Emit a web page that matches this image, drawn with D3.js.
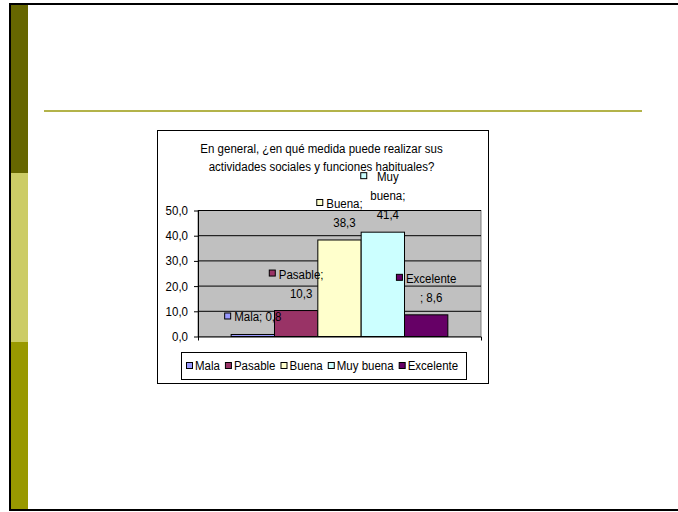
<!DOCTYPE html>
<html>
<head>
<meta charset="utf-8">
<script src="https://cdn.jsdelivr.net/npm/d3@7"></script>
<style>
  body { margin: 0; background: #fff; }
  svg { display: block; font-family: "Liberation Sans", Arial, sans-serif; }
</style>
</head>
<body>
<svg id="slide" width="678" height="512"></svg>
<script>
// chart data
const CATEGORIES = ['Mala', 'Pasable', 'Buena', 'Muy buena', 'Excelente'];
const VALUES = [0.8, 10.3, 38.3, 41.4, 8.6];
const COLORS = ['#9999FF', '#993366', '#FFFFCC', '#CCFFFF', '#660066'];
const Y_TICKS = [0, 10, 20, 30, 40, 50];
const TITLE_LINES = ['En general, ¿en qué medida puede realizar sus',
                     'actividades sociales y funciones habituales?'];

const SVG = d3.select('#slide');
const FONT = 12.5;
const SQUEEZE = 0.92; // the slide text is a bit narrower than plain Arial
const fmt = d => d3.format('.1f')(d).replace('.', ',');

// slide decoration: left stripe, frame, rule under the (empty) title
const STRIPE = [
    {y0: 4, y1: 173, c: '#666600'},
    {y0: 173, y1: 342, c: '#CCCC66'},
    {y0: 342, y1: 510, c: '#999900'}
];
SVG.selectAll('.stripe')
    .data(STRIPE)
    .enter()
    .append('rect')
    .attr('class', 'stripe')
    .attr('x', 11).attr('width', 17)
    .attr('y', d => d.y0)
    .attr('height', d => d.y1 - d.y0)
    .attr('fill', d => d.c);

SVG.append('path')
    .attr('d', 'M690,4 H10 V510 H690')
    .attr('fill', 'none').attr('stroke', '#000').attr('stroke-width', 2);

SVG.append('line')
    .attr('x1', 44).attr('x2', 642).attr('y1', 111).attr('y2', 111)
    .attr('stroke', '#B3B34A').attr('stroke-width', 2);

// chart frame
const BOX = {x: 157, y: 130, w: 331, h: 253};
SVG.append('rect')
    .attr('x', BOX.x + 0.5).attr('y', BOX.y + 0.5)
    .attr('width', BOX.w).attr('height', BOX.h)
    .attr('fill', '#fff').attr('stroke', '#000');

const CX = BOX.x + BOX.w / 2;
SVG.selectAll('.title')
    .data(TITLE_LINES)
    .enter()
    .append('text')
    .attr('class', 'title')
    .attr('x', CX - 1)
    .attr('y', (d, i) => 153 + i * 18)
    .attr('text-anchor', 'middle')
    .attr('font-size', FONT)
    .text(d => d);

// plot area
const PLOT = {left: 198, right: 481, top: 210.5, bottom: 336.5};
const y = d3.scaleLinear().domain([0, 50]).range([PLOT.bottom, PLOT.top]);
const x0 = d3.scaleBand().domain(['']).range([PLOT.left, PLOT.right]).paddingOuter(0.153);
const x1 = d3.scaleBand().domain(CATEGORIES).range([0, x0.bandwidth()]);

SVG.append('rect')
    .attr('x', PLOT.left).attr('y', PLOT.top)
    .attr('width', PLOT.right - PLOT.left).attr('height', PLOT.bottom - PLOT.top)
    .attr('fill', '#C0C0C0').attr('stroke', '#808080');

SVG.selectAll('.grid')
    .data(Y_TICKS.filter(d => d > 0))
    .enter()
    .append('line')
    .attr('class', 'grid')
    .attr('x1', PLOT.left).attr('x2', PLOT.right)
    .attr('y1', d => y(d)).attr('y2', d => y(d))
    .attr('stroke', '#000');

const yAxis = SVG.append('g')
    .attr('transform', `translate(${PLOT.left},0)`)
    .call(d3.axisLeft(y).tickValues(Y_TICKS).tickFormat(fmt).tickSize(4).tickSizeOuter(0).tickPadding(6));
yAxis.selectAll('text').attr('font-size', FONT).attr('font-family', null).attr('fill', '#000');

SVG.append('g')
    .attr('transform', `translate(0,${PLOT.bottom})`)
    .call(d3.axisBottom(x0).tickValues([]).tickSizeOuter(4));

// bars
const G = SVG.append('g').attr('transform', `translate(${x0('')},0)`);
G.selectAll('.bar')
    .data(VALUES)
    .enter()
    .append('rect')
    .attr('class', 'bar')
    .attr('x', (d, i) => x1(CATEGORIES[i]))
    .attr('width', x1.bandwidth())
    .attr('y', d => y(d))
    .attr('height', d => y(0) - y(d))
    .attr('fill', (d, i) => COLORS[i])
    .attr('stroke', '#000');

// data labels, wrapped the way the spreadsheet did (breaks at spaces or before ';')
const probe = SVG.append('text').attr('font-size', FONT).attr('visibility', 'hidden');
const measure = s => probe.text(s).node().getComputedTextLength() * SQUEEZE;
function wrap(str, maxW) {
    const lines = [];
    let rest = str;
    while (measure(rest) > maxW) {
        let best = -1;
        for (let i = 1; i < rest.length; i++) {
            if ((rest[i] === ' ' || rest[i] === ';') && measure(rest.slice(0, i)) <= maxW) best = i;
        }
        if (best < 0) break;
        lines.push(rest.slice(0, best));
        rest = rest.slice(rest[best] === ' ' ? best + 1 : best);
    }
    lines.push(rest);
    return lines;
}

const LINE_H = 19;
VALUES.forEach((v, i) => {
    const lines = wrap(CATEGORIES[i] + '; ' + fmt(v), 52);
    const textW = d3.max(lines, measure);
    const cx = x0('') + x1(CATEGORIES[i]) + x1.bandwidth() / 2;
    const lastBase = y(v) - 13;
    const firstBase = lastBase - (lines.length - 1) * LINE_H;
    const blockW = textW + 10;
    const lab = SVG.append('g').attr('class', 'data-label');
    lab.append('rect')
        .attr('x', cx - blockW / 2 + 0.5).attr('y', firstBase - 8.5)
        .attr('width', 6).attr('height', 6)
        .attr('fill', COLORS[i]).attr('stroke', '#000');
    lab.selectAll('text')
        .data(lines)
        .enter()
        .append('text')
        .attr('x', cx - blockW / 2 + 10 + textW / 2)
        .attr('y', (d, k) => firstBase + k * LINE_H)
        .attr('text-anchor', 'middle')
        .attr('font-size', FONT)
        .text(d => d);
});

// legend
const LEG = {x: 181, y: 352, w: 285, h: 27};
SVG.append('rect')
    .attr('x', LEG.x + 0.5).attr('y', LEG.y + 0.5)
    .attr('width', LEG.w).attr('height', LEG.h)
    .attr('fill', '#fff').attr('stroke', '#000');

let lx = LEG.x + 5;
const legG = SVG.append('g');
CATEGORIES.forEach((c, i) => {
    legG.append('rect')
        .attr('x', lx + 0.5).attr('y', LEG.y + 10.5)
        .attr('width', 6).attr('height', 6)
        .attr('fill', COLORS[i]).attr('stroke', '#000');
    legG.append('text')
        .attr('x', lx + 9).attr('y', LEG.y + 18)
        .attr('font-size', FONT)
        .text(c);
    lx += 9 + measure(c) + 5;
});
probe.remove();

// narrow every text a little to match the slide's rendering
SVG.selectAll('text').each(function () {
    const w = this.getComputedTextLength();
    if (w > 0) {
        this.setAttribute('textLength', w * SQUEEZE);
        this.setAttribute('lengthAdjust', 'spacingAndGlyphs');
    }
});
</script>
</body>
</html>
